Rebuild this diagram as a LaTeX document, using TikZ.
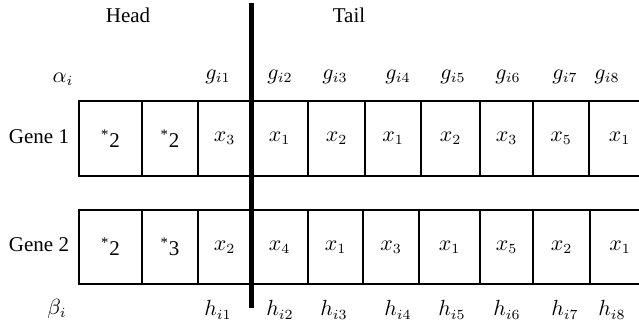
\documentclass[tikz,border=0pt]{standalone}
\usepackage{fontspec}
\setmainfont{Liberation Serif}
\usetikzlibrary{positioning}

\begin{document}
\begin{tikzpicture}[x=0.5pt,y=-0.5pt,
    cell/.style={draw, line width=0.75pt, inner sep=0pt, font=\fontsize{10.5}{12}\selectfont},
    lbl/.style={inner sep=0pt, font=\fontsize{10.5}{12}\selectfont}]
    \clip (0,0) rectangle (639,327);
    % gene rows: left/right edge of every cell and its value
    \foreach \a/\b/\v [count=\i] in {79/142/\textsuperscript{*}2, 142/198/\textsuperscript{*}2, 198/251/$x_3$, 251/308/$x_1$,
        308/365/$x_2$, 365/421/$x_1$, 421/480/$x_2$, 480/533/$x_3$, 533/589/$x_5$, 589/650/$x_1$} {
        \pgfmathsetmacro\w{(\b-\a)*0.5}
        \node[cell, minimum width=\w pt, minimum height=37.5pt] (ga\i) at ({(\a+\b)/2},138.5) {\v};
    }
    \foreach \a/\b/\v [count=\i] in {79/142/\textsuperscript{*}2, 142/198/\textsuperscript{*}3, 198/251/$x_2$, 251/308/$x_4$,
        308/363/$x_1$, 363/419/$x_3$, 419/480/$x_1$, 480/533/$x_5$, 533/590/$x_2$, 590/650/$x_1$} {
        \pgfmathsetmacro\w{(\b-\a)*0.5}
        \node[cell, minimum width=\w pt, minimum height=37pt] (gb\i) at ({(\a+\b)/2},247) {\v};
    }
    % labels above and below
    \foreach \x [count=\i] in {218,280,335,398,453,508,565,607}
        \node[lbl] (g\i) at (\x,77) {$g_{i\i}$};
    \foreach \x [count=\i] in {218,280,334,398,452,507,565,612}
        \node[lbl] (h\i) at (\x,310) {$h_{i\i}$};
    \node[lbl] (alpha) at (63,79) {$\alpha_i$};
    \node[lbl] (beta) at (57,309) {$\beta_i$};
    \node[lbl] (gene1) at (39,137) {Gene 1};
    \node[lbl] (gene2) at (39,245) {Gene 2};
    \node[lbl] (head) at (128,15) {Head};
    \node[lbl] (tail) at (349,15) {Tail};
    % head/tail divider
    \coordinate (divtop) at (251,3);
    \coordinate (divbot) at (251,308);
    \draw[line width=2.5pt] (divtop) -- (divbot);
\end{tikzpicture}
\end{document}
